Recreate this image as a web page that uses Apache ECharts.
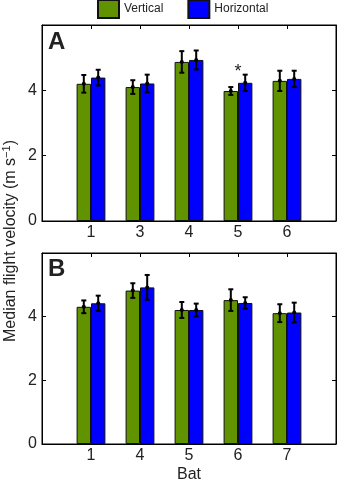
<!DOCTYPE html>
<html>
<head>
<meta charset="utf-8">
<script src="https://cdn.jsdelivr.net/npm/echarts@6/dist/echarts.min.js"></script>
<style>
html,body{margin:0;padding:0;background:#fff;}
#chart{width:340px;height:484px;}
</style>
</head>
<body>
<div id="chart"></div>
<script>
// ---- data ----
var seriesNames = ['Vertical', 'Horizontal'];
var batsA = ['1', '3', '4', '5', '6'];
var vertA = [4.20, 4.10, 4.87, 3.98, 4.29];
var vertAErr = [0.27, 0.21, 0.33, 0.12, 0.31];
var horA = [4.39, 4.21, 4.93, 4.23, 4.35];
var horAErr = [0.24, 0.27, 0.29, 0.25, 0.25];
var sigA = ['', '', '', '*', ''];
var sigAPos = [0, 0, 0, 4.55, 0];

var batsB = ['1', '4', '5', '6', '7'];
var vertB = [4.31, 4.82, 4.21, 4.52, 4.11];
var vertBErr = [0.20, 0.23, 0.25, 0.34, 0.28];
var horB = [4.42, 4.92, 4.21, 4.43, 4.13];
var horBErr = [0.24, 0.39, 0.20, 0.18, 0.31];

var yTicks = [0, 2, 4];
var panelLabels = ['A', 'B'];
var yTitle = 'Median flight velocity (m s';
var xTitle = 'Bat';

// ---- style ----
var GREEN = '#619300';
var BLUE = '#0000ff';
var FONT = 'Liberation Sans, Arial, sans-serif';
var BAR_W = 14.4;

function xy(vals) { return vals.map(function (v, i) { return [i + 1, v]; }); }
function xye(vals, errs) { return vals.map(function (v, i) { return [i + 1, v, errs[i]]; }); }

function errRender(offset) {
  return function (params, api) {
    var x = api.value(0), y = api.value(1), e = api.value(2);
    var top = api.coord([x, y + e]);
    var bot = api.coord([x, y - e]);
    var mid = api.coord([x, y]);
    var cx = top[0] + offset;
    var st = { stroke: '#000', lineWidth: 2 };
    return {
      type: 'group',
      children: [
        { type: 'line', shape: { x1: cx, y1: top[1], x2: cx, y2: bot[1] }, style: st },
        { type: 'line', shape: { x1: cx - 2.5, y1: top[1], x2: cx + 2.5, y2: top[1] }, style: st },
        { type: 'line', shape: { x1: cx - 2.5, y1: bot[1], x2: cx + 2.5, y2: bot[1] }, style: st },
        { type: 'circle', shape: { cx: cx, cy: mid[1], r: 2 }, style: { fill: '#000' } }
      ]
    };
  };
}

function makeAxesX(idx, bats) {
  var base = {
    type: 'value', min: 0, max: 6, interval: 1, gridIndex: idx,
    splitLine: { show: false },
    axisLine: { show: true, onZero: false, lineStyle: { color: '#000', width: 1 } },
    axisTick: { show: true, inside: true, length: 4, lineStyle: { color: '#000' } }
  };
  var bottom = Object.assign({}, base, {
    position: 'bottom',
    axisLabel: {
      show: true, margin: 4, color: '#222', fontFamily: FONT, fontSize: 16,
      formatter: function (v) { return (v >= 1 && v <= bats.length) ? bats[v - 1] : ''; }
    }
  });
  if (idx === 1) {
    bottom.name = xTitle;
    bottom.nameLocation = 'middle';
    bottom.nameGap = 23;
    bottom.nameTextStyle = { color: '#222', fontFamily: FONT, fontSize: 16 };
  }
  var top = Object.assign({}, base, { position: 'top', axisLabel: { show: false } });
  return [bottom, top];
}
function makeAxesY(idx) {
  var base = {
    type: 'value', min: 0, max: 6, interval: 2, gridIndex: idx,
    splitLine: { show: false },
    axisLine: { show: true, onZero: false, lineStyle: { color: '#000', width: 1 } },
    axisTick: { show: true, inside: true, length: 4, lineStyle: { color: '#000' } }
  };
  var left = Object.assign({}, base, {
    position: 'left',
    axisLabel: {
      show: true, margin: 5, color: '#222', fontFamily: FONT, fontSize: 16,
      formatter: function (v) { return yTicks.indexOf(v) >= 0 ? String(v) : ''; }
    }
  });
  var right = Object.assign({}, base, { position: 'right', axisLabel: { show: false } });
  return [left, right];
}

var xAxes = makeAxesX(0, batsA).concat(makeAxesX(1, batsB));
var yAxes = makeAxesY(0).concat(makeAxesY(1));

function barSeries(name, data, color, xi, yi) {
  return {
    name: name, type: 'bar', data: data, xAxisIndex: xi, yAxisIndex: yi,
    barWidth: BAR_W, barGap: '0%',
    itemStyle: { color: color, borderColor: '#111', borderWidth: 1 },
    emphasis: { disabled: true }, silent: true, z: 2
  };
}
function errSeries(name, data, offset, xi, yi) {
  return {
    name: name, type: 'custom', data: data, xAxisIndex: xi, yAxisIndex: yi,
    renderItem: errRender(offset), silent: true, z: 5
  };
}

var starData = sigA.map(function (s, i) { return s ? [i + 1, sigAPos[i], s] : null; }).filter(Boolean);

var option = {
  animation: false,
  backgroundColor: '#fff',
  legend: {
    data: seriesNames,
    left: 92, top: -6,
    itemWidth: 21, itemHeight: 18, itemGap: 24,
    icon: 'rect',
    textStyle: { color: '#222', fontFamily: FONT, fontSize: 12 },
    selectedMode: false
  },
  grid: [
    { left: 42, top: 25, width: 294, height: 196, show: true, borderColor: '#000', borderWidth: 1, backgroundColor: '#fff' },
    { left: 42, top: 253, width: 294, height: 195, show: true, borderColor: '#000', borderWidth: 1, backgroundColor: '#fff' }
  ],
  xAxis: xAxes,
  yAxis: yAxes,
  graphic: [
    {
      type: 'text', x: 11, y: 241, rotation: Math.PI / 2,
      style: {
        text: yTitle + '{sup|−1}' + ')',
        rich: { sup: { fontSize: 11, verticalAlign: 'top', padding: [0, 0, 8, 0], fill: '#222', fontFamily: FONT } },
        fill: '#222', fontFamily: FONT, fontSize: 16, align: 'center', verticalAlign: 'middle'
      }
    },
    { type: 'text', x: 48, y: 30, style: { text: panelLabels[0], fill: '#222', fontFamily: FONT, fontSize: 24, fontWeight: 'bold' } },
    { type: 'text', x: 48, y: 257, style: { text: panelLabels[1], fill: '#222', fontFamily: FONT, fontSize: 24, fontWeight: 'bold' } }
  ],
  series: [
    barSeries(seriesNames[0], xy(vertA), GREEN, 0, 0),
    barSeries(seriesNames[1], xy(horA), BLUE, 0, 0),
    barSeries(seriesNames[0], xy(vertB), GREEN, 2, 2),
    barSeries(seriesNames[1], xy(horB), BLUE, 2, 2),
    errSeries('errVA', xye(vertA, vertAErr), -BAR_W / 2, 0, 0),
    errSeries('errHA', xye(horA, horAErr), BAR_W / 2, 0, 0),
    errSeries('errVB', xye(vertB, vertBErr), -BAR_W / 2, 2, 2),
    errSeries('errHB', xye(horB, horBErr), BAR_W / 2, 2, 2),
    {
      name: 'sig', type: 'custom', xAxisIndex: 0, yAxisIndex: 0, data: starData, z: 6, silent: true,
      renderItem: function (params, api) {
        var p = api.coord([api.value(0), api.value(1)]);
        return { type: 'text', x: p[0], y: p[1], style: { text: sigA[api.value(0) - 1], fill: '#222', fontFamily: FONT, fontSize: 18, align: 'center', verticalAlign: 'middle' } };
      }
    }
  ]
};

var chart = echarts.init(document.getElementById('chart'), null, { renderer: 'canvas' });
chart.setOption(option);
</script>
</body>
</html>
